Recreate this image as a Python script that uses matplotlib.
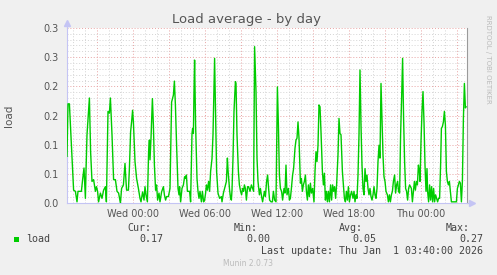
import matplotlib
matplotlib.use("Agg")
import matplotlib.pyplot as plt
import matplotlib.dates as mdates
from matplotlib.patches import Rectangle
from matplotlib.ticker import FuncFormatter, MultipleLocator
import pandas as pd

# 5-minute load samples, minutes after Tue 18:30
minutes = [
    0, 5, 12, 25, 33, 42, 50, 55, 72, 78, 85, 92, 95, 100, 112, 118, 125, 133, 142, 147,
    153, 158, 167, 175, 183, 192, 197, 205, 212, 217, 225, 233, 242, 250, 258, 267,
    273, 282, 290, 295, 298, 307, 312, 318, 323, 328, 332, 340, 348, 357, 365, 370, 378, 385, 390, 395,
    402, 408, 412, 415, 420, 427, 432, 437, 443, 448, 453, 460, 465, 473, 482, 487, 493, 498, 507, 515,
    523, 532, 537, 542, 548,
    555, 560, 563, 568, 575, 582, 588, 593, 597, 602, 613, 618, 625, 628, 632, 635, 638, 643, 650, 655,
    660, 665, 672, 677, 683, 688, 693, 697, 702, 708, 713, 718, 725, 730, 738, 743, 748, 755, 763, 772,
    775, 782, 788, 797, 802, 805, 813, 818, 822, 825, 830, 835, 842,
    845, 850, 857, 862, 868, 873, 878, 883, 887, 892, 897, 903, 908, 915, 922, 928, 933, 938, 945, 950,
    955, 962, 967, 973, 978, 987, 992, 998, 1003, 1008, 1013, 1020, 1027, 1032, 1038, 1045, 1052, 1057, 1062, 1067,
    1073, 1078, 1085, 1090, 1095, 1100, 1107, 1112, 1117, 1122, 1128, 1133,
    1140, 1145, 1150, 1155, 1160, 1163, 1167, 1172, 1177, 1182, 1187, 1192, 1197, 1202, 1207, 1212, 1217, 1222, 1228, 1235,
    1240, 1245, 1250, 1255, 1260, 1265, 1270, 1277, 1282, 1287, 1292, 1297, 1302, 1307, 1312, 1318, 1323, 1328, 1333, 1338,
    1343, 1348, 1355, 1360, 1365, 1370, 1377, 1382, 1387, 1392, 1397, 1402, 1407, 1412, 1418, 1423,
    1430, 1435, 1440, 1445, 1450, 1455, 1460, 1465, 1470, 1475, 1480, 1485, 1490, 1495, 1500, 1505, 1510, 1515, 1520, 1525,
    1530, 1535, 1540, 1545, 1550, 1555, 1560, 1565, 1570, 1575, 1580, 1585, 1590, 1595, 1602, 1607, 1612, 1617, 1622, 1627,
    1632, 1638, 1643, 1648, 1653, 1658, 1663, 1668, 1673, 1678, 1683, 1688, 1693, 1698, 1703, 1708, 1713,
    1722, 1727, 1732, 1737, 1742, 1747, 1752, 1757, 1762, 1765, 1770, 1775, 1780, 1785, 1790, 1795, 1800, 1803, 1808, 1813,
    1818, 1823, 1828, 1833, 1838, 1843, 1848, 1853, 1858, 1863, 1868, 1872, 1877, 1882, 1887, 1892, 1897, 1902, 1907, 1912,
    1917, 1922, 1947, 1952, 1957, 1962, 1967, 1972, 1977, 1982, 1987, 1992, 1995,
]
load = [
    0.08, 0.17, 0.17, 0.077, 0.022, 0.02, 0.002, 0.02, 0.02, 0.04, 0.06, 0.008, 0.054, 0.117, 0.18, 0.088, 0.037, 0.04, 0.02, 0.028,
    0.02, 0.002, 0.017, 0.008, 0.022, 0.028, 0.002, 0.157, 0.154, 0.18, 0.117, 0.04, 0.04, 0.02, 0.017, 0.0,
    0.025, 0.031, 0.068, 0.037, 0.022, 0.022, 0.059, 0.122, 0.139, 0.159, 0.139, 0.071, 0.042, 0.025, 0.008, 0.002, 0.019, 0.005, 0.028, 0.014,
    0.002, 0.088, 0.108, 0.074, 0.111, 0.179, 0.133, 0.065, 0.022, 0.031, 0.005, 0.017, 0.002, 0.019, 0.028, 0.014, 0.005, 0.011, 0.011, 0.025,
    0.173, 0.185, 0.209, 0.168, 0.099,
    0.025, 0.014, 0.028, 0.002, 0.025, 0.031, 0.045, 0.042, 0.048, 0.02, 0.02, 0.002, 0.119, 0.128, 0.119, 0.191, 0.245, 0.134, 0.042, 0.02,
    0.008, 0.02, 0.002, 0.02, 0.002, 0.005, 0.017, 0.031, 0.022, 0.037, 0.02, 0.054, 0.076, 0.117, 0.248, 0.151, 0.054, 0.017, 0.008, 0.011,
    0.002, 0.017, 0.025, 0.037, 0.077, 0.057, 0.022, 0.008, 0.005, 0.022, 0.077, 0.157, 0.208,
    0.205, 0.117, 0.054, 0.031, 0.02, 0.014, 0.025, 0.02, 0.031, 0.025, 0.005, 0.028, 0.028, 0.02, 0.031, 0.025, 0.02, 0.268, 0.191, 0.077,
    0.037, 0.014, 0.025, 0.011, 0.002, 0.02, 0.011, 0.037, 0.048, 0.025, 0.005, 0.002, 0.002, 0.02, 0.005, 0.002, 0.199, 0.133, 0.048, 0.025,
    0.02, 0.005, 0.025, 0.017, 0.065, 0.014, 0.025, 0.005, 0.008, 0.025, 0.048, 0.059,
    0.094, 0.108, 0.111, 0.139, 0.111, 0.077, 0.034, 0.042, 0.02, 0.031, 0.037, 0.048, 0.02, 0.005, 0.031, 0.011, 0.034, 0.017, 0.025, 0.002,
    0.054, 0.088, 0.071, 0.099, 0.168, 0.165, 0.122, 0.054, 0.031, 0.051, 0.005, 0.02, 0.002, 0.02, 0.002, 0.031, 0.005, 0.031, 0.02, 0.028,
    0.008, 0.031, 0.083, 0.145, 0.119, 0.117, 0.054, 0.031, 0.008, 0.002, 0.02, 0.005, 0.028, 0.002, 0.014, 0.02,
    0.008, 0.02, 0.002, 0.014, 0.008, 0.048, 0.117, 0.228, 0.133, 0.065, 0.025, 0.014, 0.059, 0.037, 0.048, 0.025, 0.014, 0.025, 0.011, 0.005,
    0.014, 0.028, 0.014, 0.008, 0.025, 0.071, 0.099, 0.077, 0.205, 0.145, 0.082, 0.045, 0.037, 0.02, 0.014, 0.002, 0.014, 0.002, 0.014, 0.02,
    0.037, 0.048, 0.017, 0.031, 0.037, 0.02, 0.017, 0.117, 0.179, 0.248, 0.145, 0.071, 0.025, 0.02, 0.005, 0.025, 0.031,
    0.025, 0.002, 0.02, 0.037, 0.022, 0.037, 0.031, 0.065, 0.054, 0.037, 0.105, 0.157, 0.191, 0.139, 0.065, 0.02, 0.059, 0.02, 0.002, 0.031,
    0.005, 0.028, 0.002, 0.025, 0.002, 0.014, 0.008, 0.002, 0.008, 0.008, 0.065, 0.128, 0.131, 0.139, 0.157, 0.134, 0.054, 0.037, 0.031, 0.037,
    0.02, 0.002, 0.002, 0.025, 0.031, 0.037, 0.034, 0.002, 0.037, 0.145, 0.205, 0.163, 0.165,
]
assert len(minutes) == len(load)

ytick_vals = [0.0, 0.05, 0.10, 0.15, 0.20, 0.25, 0.30]
ytick_labels = ["0.0", "0.1", "0.1", "0.2", "0.2", "0.3", "0.3"]

stat_names = ["Cur:", "Min:", "Avg:", "Max:"]
stat_values = ["0.17", "0.00", "0.05", "0.27"]
last_update = "Last update: Thu Jan  1 03:40:00 2026"

start = pd.Timestamp("2025-12-30 18:30")
end = start + pd.Timedelta(minutes=2000)
times = start + pd.to_timedelta(minutes, unit="min")

W, H = 497, 275
BG = "#f0f0f0"
TXT = "#555555"
AXIS = "#c4c4f4"


def fx(x):
    return x / W


def fy(y):
    return 1 - y / H


fig = plt.figure(figsize=(W / 100, H / 100), dpi=100, facecolor=BG)
ax = fig.add_axes([fx(67), fy(203), 400 / W, 175 / H])
ax.set_facecolor("white")

ax.plot(times, load, color="#00cc00", lw=1.0, zorder=3)

ax.set_xlim(start, end)
ax.set_ylim(0, 0.3)

ax.set_yticks(ytick_vals)
ax.set_yticklabels(ytick_labels)
ax.yaxis.set_minor_locator(MultipleLocator(0.01))

ax.xaxis.set_major_locator(mdates.HourLocator(byhour=range(0, 24, 3)))
ax.xaxis.set_minor_locator(mdates.HourLocator())


def xlab(v, pos):
    d = mdates.num2date(v)
    return d.strftime("%a %H:%M") if d.hour % 6 == 0 else ""


ax.xaxis.set_major_formatter(FuncFormatter(xlab))

ax.grid(which="minor", color="#d4d4d4", ls=(0, (1, 2)), lw=0.7)
ax.grid(which="major", color="#e8a4a4", ls=(0, (1, 2)), lw=0.7)
ax.set_axisbelow(True)

ax.tick_params(which="both", length=0, labelsize=7, colors=TXT)
ax.tick_params(axis="y", pad=6)
ax.tick_params(axis="x", pad=4)

ax.spines["top"].set_visible(False)
ax.spines["right"].set_color("#9a9a9a")
ax.spines["left"].set_color(AXIS)
ax.spines["bottom"].set_color(AXIS)

# axis arrows
ax.plot([0, 0], [1, 1.03], color=AXIS, lw=0.8, transform=ax.transAxes, clip_on=False)
ax.plot(0, 1.03, marker="^", ms=4, color=AXIS, transform=ax.transAxes, clip_on=False)
ax.plot([1, 1.012], [0, 0], color=AXIS, lw=0.8, transform=ax.transAxes, clip_on=False)
ax.plot(1.012, 0, marker=">", ms=4, color=AXIS, transform=ax.transAxes, clip_on=False)

fig.text(fx(247), fy(20), "Load average - by day", ha="center", va="center",
         fontsize=9.5, color=TXT)
fig.text(fx(9), fy(116), "load", ha="center", va="center", rotation=90,
         fontsize=7.5, color=TXT)
fig.text(fx(488), fy(15), "RRDTOOL / TOBI OETIKER", ha="center", va="top",
         rotation=270, fontsize=5, color="#bbbbbb")

# legend block
mono = dict(family="DejaVu Sans Mono", fontsize=7.2, color="#444444")
fig.patches.append(Rectangle((fx(14), fy(242)), 5 / W, 5 / H, transform=fig.transFigure,
                             facecolor="#00cc00", edgecolor="none"))
fig.text(fx(26), fy(239), "load", ha="left", va="center", **mono)
name_x = [151, 258, 363, 470]
val_x = [163, 270, 376, 483]
for name, nx, val, vx in zip(stat_names, name_x, stat_values, val_x):
    fig.text(fx(nx), fy(228), name, ha="right", va="center", **mono)
    fig.text(fx(vx), fy(239), val, ha="right", va="center", **mono)
fig.text(fx(483), fy(251), last_update, ha="right", va="center", **mono)
fig.text(fx(248), fy(264), "Munin 2.0.73", ha="center", va="center",
         fontsize=5.5, color="#bbbbbb")

fig.savefig("out.png", dpi=100, facecolor=BG)
